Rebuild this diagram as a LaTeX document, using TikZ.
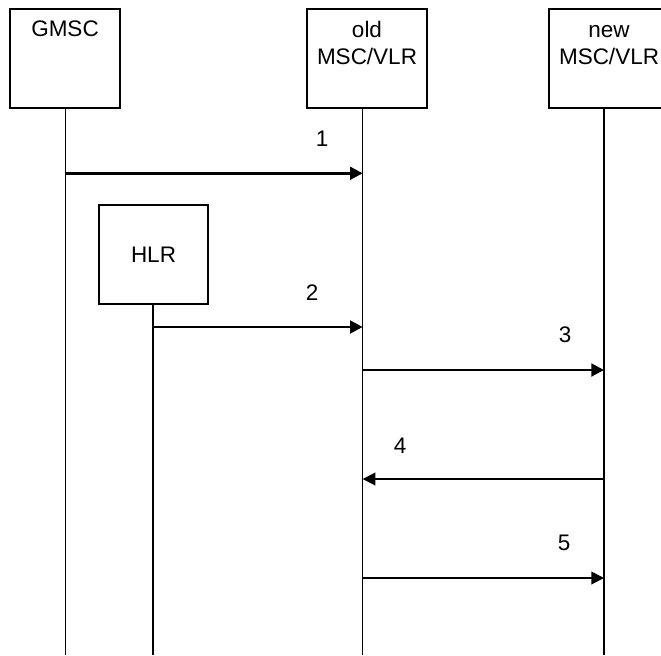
\documentclass[tikz,border=0pt]{standalone}
\usepackage{fontspec}
\setmainfont{Liberation Sans}
\usetikzlibrary{arrows.meta}

\begin{document}
\begin{tikzpicture}[
    >={Triangle[length=9pt, width=9pt]},
    every node/.style={font=\fontsize{16}{19.9}\selectfont},
    entity/.style={draw, line width=0.8pt, minimum width=3cm, minimum height=2.475cm, inner sep=0pt},
    toplabel/.style={anchor=north, align=center, inner sep=0pt, yshift=-0.3cm},
    life/.style={line width=0.8pt},
    msg/.style={line width=1.3pt, ->},
    thickmsg/.style={line width=2pt, ->}
    ]

    \useasboundingbox (0, 0) rectangle (16.525, -16.375);

    % Entities
    \node[entity, minimum width=2.75cm, label={[toplabel]north:GMSC}] (gmsc) at (1.625, -1.4625) {};
    \node[entity, label={[toplabel]north:old\\MSC/VLR}] (old) at (9.175, -1.4625) {};
    \node[entity, label={[toplabel]north:\vphantom{l}new\\MSC/VLR}] (new) at (15.225, -1.4625) {};
    \node[entity, minimum width=2.725cm] (hlr) at (3.8375, -6.3625) {HLR};

    % Lifeline ends
    \coordinate (gmscend) at (1.6325, -16.375);
    \coordinate (hlrend) at (3.825, -16.375);
    \coordinate (oldend) at (9.0675, -16.375);
    \coordinate (newend) at (15.1, -16.375);

    % Lifelines
    \draw [life] (gmscend |- gmsc.south) -- (gmscend);
    \draw [life] (hlrend |- hlr.south) -- (hlrend);
    \draw [life] (oldend |- old.south) -- (oldend);
    \draw [life] (newend |- new.south) -- (newend);

    % Message heights
    \coordinate (m1) at (0, -4.3325);
    \coordinate (m2) at (0, -8.175);
    \coordinate (m3) at (0, -9.25);
    \coordinate (m4) at (0, -11.975);
    \coordinate (m5) at (0, -14.45);

    % Messages
    \draw [thickmsg] (gmscend |- m1) -- (oldend |- m1);
    \draw [thickmsg] (hlrend |- m2) -- (oldend |- m2);
    \draw [thickmsg] (oldend |- m3) -- (newend |- m3);
    \draw [msg] (newend |- m4) -- (oldend |- m4);
    \draw [msg] (oldend |- m5) -- (newend |- m5);

    % Message numbers
    \node (n1) at (8.05, -3.46) {1};
    \node (n2) at (7.8, -7.325) {2};
    \node (n3) at (14.125, -8.375) {3};
    \node (n4) at (10.0, -11.15) {4};
    \node (n5) at (14.1, -13.575) {5};

\end{tikzpicture}
\end{document}
